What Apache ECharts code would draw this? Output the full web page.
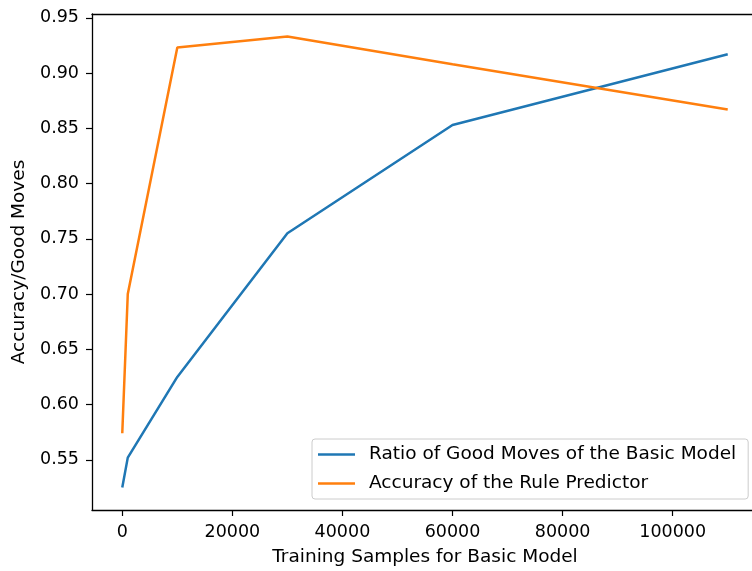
<!DOCTYPE html>
<html>
<head>
<meta charset="utf-8">
<script src="https://cdn.jsdelivr.net/npm/echarts@6/dist/echarts.min.js"></script>
<style>
html,body{margin:0;padding:0;background:#fff;}
#c{width:752px;height:571px;}
</style>
</head>
<body>
<div id="c"></div>
<script>
const trainingSamples = [0, 1000, 10000, 30000, 60000, 110000];
const goodMovesRatio = [0.525, 0.552, 0.625, 0.755, 0.853, 0.917];
const rulePredictorAccuracy = [0.574, 0.700, 0.923, 0.933, 0.908, 0.867];
const xTicks = [0, 20000, 40000, 60000, 80000, 100000];
const yTicks = [0.55, 0.60, 0.65, 0.70, 0.75, 0.80, 0.85, 0.90, 0.95];
const seriesNames = ['Ratio of Good Moves of the Basic Model', 'Accuracy of the Rule Predictor'];
const xTitle = 'Training Samples for Basic Model';
const yTitle = 'Accuracy/Good Moves';

function padded(arr) {
  const lo = Math.min(...arr), hi = Math.max(...arr);
  const m = (hi - lo) * 0.05;
  return [lo - m, hi + m];
}
const xr = padded(trainingSamples);
const yr = padded(goodMovesRatio.concat(rulePredictorAccuracy));

const FONT = 'DejaVu Sans';
const FS = 17.5;
const FS2 = 18.5;
const chart = echarts.init(document.getElementById('c'), null, {renderer: 'canvas'});
chart.setOption({
  animation: false,
  backgroundColor: '#fff',
  textStyle: {fontFamily: FONT},
  grid: {
    left: 92, top: 14, width: 666, height: 496,
    show: false, containLabel: false, outerBoundsMode: 'none'
  },
  xAxis: [{
    type: 'value', min: xr[0], max: xr[1],
    name: xTitle, nameLocation: 'middle', nameGap: 38,
    nameTextStyle: {fontFamily: FONT, fontSize: FS2, color: '#000'},
    axisLine: {show: true, onZero: false, lineStyle: {color: '#000', width: 1.3}},
    axisTick: {show: true, length: 6, lineStyle: {color: '#000', width: 1.2}, customValues: xTicks},
    axisLabel: {fontFamily: FONT, fontSize: FS, color: '#000', margin: 13, customValues: xTicks,
      formatter: v => String(v)},
    splitLine: {show: false}
  }, {
    type: 'value', position: 'top', min: xr[0], max: xr[1],
    axisLine: {show: true, onZero: false, lineStyle: {color: '#000', width: 1.3}},
    axisTick: {show: false}, axisLabel: {show: false}, splitLine: {show: false}
  }],
  yAxis: {
    type: 'value', min: yr[0], max: yr[1],
    name: yTitle, nameLocation: 'middle', nameGap: 63, nameRotate: 90,
    nameTextStyle: {fontFamily: FONT, fontSize: FS2, color: '#000'},
    axisLine: {show: true, onZero: false, lineStyle: {color: '#000', width: 1.3}},
    axisTick: {show: true, length: 6, lineStyle: {color: '#000', width: 1.2}, customValues: yTicks},
    axisLabel: {fontFamily: FONT, fontSize: FS, color: '#000', margin: 13, customValues: yTicks,
      formatter: v => v.toFixed(2)},
    splitLine: {show: false}
  },
  legend: {
    show: true, orient: 'vertical', left: 312, top: 439,
    padding: [5, 12, 5, 6],
    backgroundColor: 'rgba(255,255,255,0.8)', borderColor: '#cccccc', borderWidth: 1, borderRadius: 3,
    icon: 'rect', itemWidth: 37, itemHeight: 2.5, itemGap: 8,
    textStyle: {fontFamily: FONT, fontSize: FS2, color: '#000', lineHeight: 21, padding: [0, 0, 0, 9]},
    data: seriesNames
  },
  series: [
    {
      name: seriesNames[0], type: 'line', symbol: 'none',
      data: trainingSamples.map((x, i) => [x, goodMovesRatio[i]]),
      lineStyle: {color: '#1f77b4', width: 2.5}, itemStyle: {color: '#1f77b4'}
    },
    {
      name: seriesNames[1], type: 'line', symbol: 'none',
      data: trainingSamples.map((x, i) => [x, rulePredictorAccuracy[i]]),
      lineStyle: {color: '#ff7f0e', width: 2.5}, itemStyle: {color: '#ff7f0e'}
    }
  ]
});
</script>
</body>
</html>
